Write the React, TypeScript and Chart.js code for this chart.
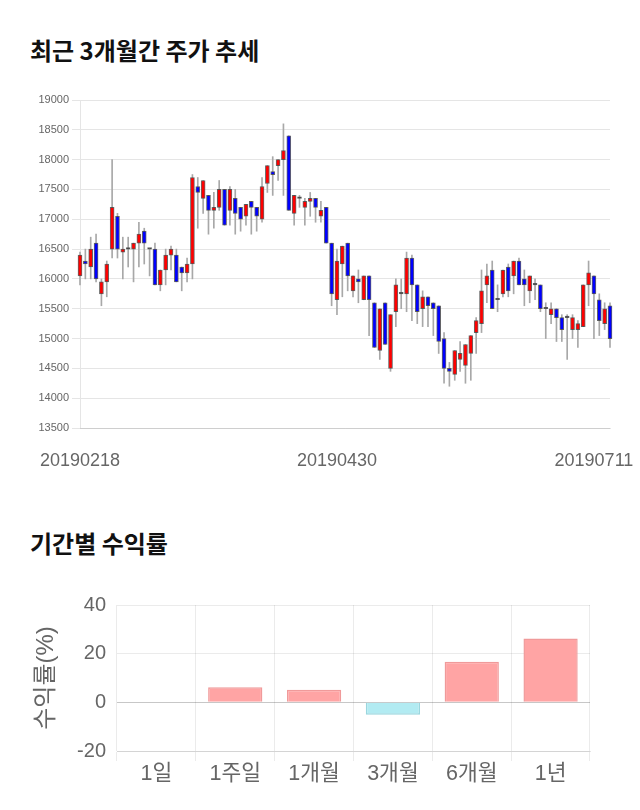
import React, { useEffect, useRef } from 'react';
import { Chart, registerables } from 'chart.js';

Chart.register(...registerables);

// ---- Daily candles (100 trading days) ----
const opens = [
  16050, 16300, 16200, 16600, 15750, 15950, 16500, 17050, 16450, 16500,
  16500, 16600, 16800, 16500, 16500, 15900, 16150, 16400, 16400, 16200,
  16100, 16250, 17550, 17350, 17400, 17150, 17200, 17500, 17150, 17350,
  17200, 17050, 17300, 17200, 17000, 17600, 17800, 17900, 18000, 18400,
  17100, 17350, 17200, 17300, 17350, 17050, 17200, 16600, 15650, 16250,
  16600, 15800, 16000, 15650, 16050, 15600, 14800, 15600, 14500, 15450,
  15750, 15750, 16350, 15900, 15500, 15700, 15600, 15550, 15000, 14500,
  14400, 14650, 14550, 14750, 15100, 15250, 15900, 16150, 15650, 15750,
  16200, 16050, 16300, 16000, 15800, 15900, 15900, 15500, 15400, 15500,
  15350, 15350, 15150, 15150, 15200, 15900, 16050, 15650, 15250, 15550,
];
const highs = [
  16450, 16500, 16700, 16750, 16000, 16300, 18000, 17100, 16700, 16700,
  16600, 16950, 16850, 16500, 16600, 16150, 16500, 16550, 16500, 16200,
  16350, 17750, 17700, 17650, 17400, 17450, 17650, 17500, 17550, 17500,
  17200, 17250, 17300, 17200, 17700, 17900, 18050, 18000, 18600, 18400,
  17400, 17400, 17350, 17450, 17350, 17300, 17200, 16600, 16500, 16550,
  16600, 16050, 16150, 16050, 16050, 15600, 15500, 15600, 15400, 16000,
  16000, 16450, 16400, 15900, 15800, 15700, 15600, 15550, 15100, 14600,
  14800, 14950, 14900, 15050, 15350, 16150, 16250, 16300, 15900, 16150,
  16250, 16300, 16350, 16150, 16050, 16000, 15900, 15600, 15600, 15500,
  15400, 15400, 15400, 15300, 15900, 16300, 16050, 15750, 15600, 15600,
];
const lows = [
  15900, 16000, 16000, 15950, 15550, 15700, 16350, 16350, 16000, 16200,
  15950, 16200, 16250, 16050, 15900, 15800, 15900, 16150, 15950, 15800,
  15950, 16000, 16850, 17100, 16750, 16850, 17150, 16900, 16900, 16750,
  16800, 16900, 16750, 16800, 16950, 17450, 17400, 17650, 17400, 17150,
  16900, 17200, 16900, 17050, 16950, 16950, 16600, 15550, 15400, 15700,
  15800, 15700, 15600, 15650, 15050, 14850, 14650, 14900, 14450, 15200,
  15500, 15450, 15300, 15250, 15200, 15200, 15050, 14750, 14250, 14200,
  14300, 14450, 14250, 14300, 14750, 15100, 15600, 15500, 15450, 15700,
  15700, 15750, 15900, 15550, 15600, 15650, 15450, 15000, 15250, 14950,
  14950, 14650, 15000, 14850, 15200, 15550, 15000, 15050, 15150, 14850,
];
const closes = [
  16400, 16250, 16500, 16000, 15950, 16250, 17200, 16500, 16500, 16500,
  16600, 16750, 16600, 16500, 15900, 16150, 16400, 16500, 15950, 16100,
  16250, 17700, 17450, 17650, 17150, 17200, 17500, 16900, 17500, 17100,
  17000, 17250, 17200, 17050, 17550, 17900, 17750, 18000, 18150, 17150,
  17400, 17350, 17300, 17350, 17200, 17150, 16600, 15750, 16300, 16550,
  16050, 16050, 15950, 16050, 15650, 14850, 15500, 14900, 15400, 15900,
  15750, 16350, 15900, 15450, 15700, 15550, 15500, 14950, 14500, 14450,
  14800, 14750, 14900, 15050, 15300, 15800, 16050, 15500, 15650, 16150,
  15800, 16300, 15900, 15900, 16050, 15900, 15500, 15500, 15500, 15350,
  15150, 15350, 15350, 15250, 15900, 16100, 15750, 15300, 15500, 15000,
];
const dateTicks = ['20190218', '20190430', '20190711'];
const dateTickStep = 48;
const priceMin = 13500;
const priceMax = 19000;
const priceStep = 500;

// ---- Period returns ----
const periods = ['1일', '1주일', '1개월', '3개월', '6개월', '1년'];
const returns = [0, 6.2, 5.2, -5.1, 16.7, 26.2];

const UP = '#ff0000';
const DOWN = '#0000ff';
const FLAT = '#333333';

function CandleChart() {
  const ref = useRef<HTMLCanvasElement>(null);
  useEffect(() => {
    const labels = opens.map((_, i) =>
      i % dateTickStep === 0 && dateTicks[i / dateTickStep] ? dateTicks[i / dateTickStep] : ''
    );
    const bodyColors = opens.map((o, i) => (closes[i] > o ? UP : closes[i] < o ? DOWN : FLAT));
    const chart = new Chart(ref.current as HTMLCanvasElement, {
      type: 'bar',
      data: {
        labels,
        datasets: [
          {
            data: opens.map((o, i) => [o, closes[i]]) as any,
            backgroundColor: bodyColors,
            borderColor: 'rgba(50,50,50,0.75)',
            borderWidth: 1,
            borderSkipped: false,
            barThickness: 4,
            minBarLength: 1.5,
            grouped: false,
            clip: false as any,
          } as any,
          {
            data: lows.map((l, i) => [l, highs[i]]) as any,
            backgroundColor: '#a8a8a8',
            borderWidth: 0,
            barThickness: 1,
            grouped: false,
            clip: false as any,
          } as any,
        ],
      },
      options: {
        responsive: false,
        animation: false,
        layout: { padding: { top: 15, right: 30, bottom: 0, left: 0 } },
        plugins: { legend: { display: false }, tooltip: { enabled: false } },
        scales: {
          x: {
            offset: false,
            grid: { display: false, drawTicks: false },
            ticks: {
              autoSkip: false,
              maxRotation: 0,
              minRotation: 0,
              padding: 22,
              color: '#666',
              font: { family: "'Liberation Sans', sans-serif", size: 18 },
            },
            afterFit: (s: any) => {
              s.height = 57;
            },
          },
          y: {
            min: priceMin,
            max: priceMax,
            grid: { color: 'rgba(0,0,0,0.1)' },
            ticks: {
              stepSize: priceStep,
              color: '#666',
              font: { family: "'Liberation Sans', sans-serif", size: 11 },
              callback: (v: any) => String(v),
            },
            afterFit: (s: any) => {
              s.width = 80;
            },
          },
        },
      },
    });
    return () => chart.destroy();
  }, []);
  return (
    <canvas
      ref={ref}
      width={640}
      height={400}
      style={{ position: 'absolute', left: 0, top: 85, width: 640, height: 400 }}
    />
  );
}

function ReturnChart() {
  const ref = useRef<HTMLCanvasElement>(null);
  useEffect(() => {
    const fills = returns.map((r) => (r >= 0 ? '#ffa4a4' : '#b2ebf2'));
    const borders = returns.map((r) => (r >= 0 ? '#f09a9a' : '#9ad6de'));
    const chart = new Chart(ref.current as HTMLCanvasElement, {
      type: 'bar',
      data: {
        labels: periods,
        datasets: [
          {
            data: returns,
            backgroundColor: fills,
            borderColor: borders,
            borderWidth: 1.5,
            categoryPercentage: 0.8,
            barPercentage: 0.86,
          },
        ],
      },
      options: {
        responsive: false,
        animation: false,
        layout: { padding: { top: 25, right: 50, bottom: 0, left: 0 } },
        plugins: { legend: { display: false }, tooltip: { enabled: false } },
        scales: {
          x: {
            grid: { color: 'rgba(0,0,0,0.08)', tickLength: 10 },
            ticks: {
              padding: 0,
              color: '#666',
              font: { family: "'Liberation Sans', 'Noto Sans CJK KR', sans-serif", size: 21.5 },
            },
            afterFit: (s: any) => {
              s.height = 59;
            },
          },
          y: {
            min: -20,
            max: 40,
            grid: {
              drawTicks: false,
              color: (c: any) => (c.tick && c.tick.value === 0 ? 'rgba(0,0,0,0.22)' : 'rgba(0,0,0,0.08)'),
            },
            border: { display: false },
            title: {
              display: true,
              text: '수익률(%)',
              color: '#666',
              padding: { top: 32, bottom: 0 },
              font: { family: "'Liberation Sans', 'Noto Sans CJK KR', sans-serif", size: 24 },
            },
            ticks: {
              stepSize: 20,
              padding: 11,
              color: '#666',
              font: { family: "'Liberation Sans', 'Noto Sans CJK KR', sans-serif", size: 20 },
            },
            afterFit: (s: any) => {
              s.width = 117;
            },
          },
        },
      },
    });
    return () => chart.destroy();
  }, []);
  return (
    <canvas
      ref={ref}
      width={640}
      height={230}
      style={{ position: 'absolute', left: 0, top: 580, width: 640, height: 230 }}
    />
  );
}

const titleStyle: React.CSSProperties = {
  position: 'absolute',
  left: 30,
  margin: 0,
  fontFamily: "'Noto Sans CJK KR', sans-serif",
  fontWeight: 700,
  fontSize: 24,
  lineHeight: '28px',
  color: '#111',
  whiteSpace: 'nowrap',
};

export default function App() {
  return (
    <div style={{ position: 'absolute', left: 0, top: 0, width: 640, height: 810, background: '#fff' }}>
      <div style={{ ...titleStyle, top: 36 }}>최근 3개월간 주가 추세</div>
      <CandleChart />
      <div style={{ ...titleStyle, top: 529 }}>기간별 수익률</div>
      <ReturnChart />
    </div>
  );
}
